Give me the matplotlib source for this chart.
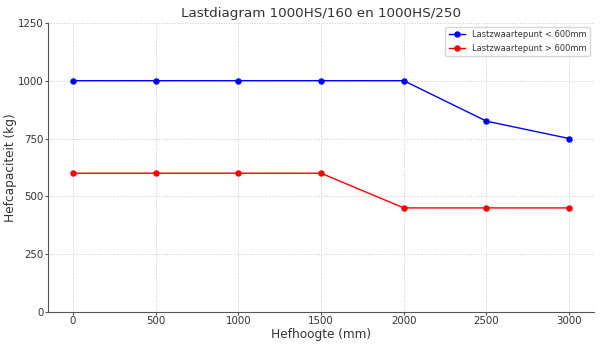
import matplotlib
matplotlib.use('Agg')
import matplotlib.pyplot as plt

hoogte = [0, 500, 1000, 1500, 2000, 2500, 3000]
cap_klein = [1000, 1000, 1000, 1000, 1000, 825, 750]
cap_groot = [600, 600, 600, 600, 450, 450, 450]
yticks = [0, 250, 500, 750, 1000, 1250]

txt = '#333333'
fig = plt.figure(figsize=(6, 3.57), dpi=100)
ax = fig.add_axes([0.08, 0.126, 0.91, 0.81])
ax.plot(hoogte, cap_klein, '-o', color='blue', markersize=3.6, linewidth=1.0,
        label='Lastzwaartepunt < 600mm')
ax.plot(hoogte, cap_groot, '-o', color='red', markersize=3.6, linewidth=1.0,
        label='Lastzwaartepunt > 600mm')
ax.set_ylim(0, 1250)
ax.set_yticks(yticks)
ax.set_xticks(hoogte)
ax.grid(True, linestyle=':', color='#cccccc', linewidth=0.7)
for s in ['top', 'right']:
    ax.spines[s].set_visible(False)
for s in ['left', 'bottom']:
    ax.spines[s].set_color('#555555')
ax.tick_params(colors='#555555', labelcolor=txt, labelsize=7.4, length=2, pad=1.2)
ax.set_title('Lastdiagram 1000HS/160 en 1000HS/250', fontsize=9.7, color=txt, pad=4)
ax.set_xlabel('Hefhoogte (mm)', fontsize=8.7, color=txt, labelpad=1)
ax.set_ylabel('Hefcapaciteit (kg)', fontsize=8.7, color=txt, labelpad=0.5)
leg = ax.legend(loc='upper right', fontsize=6)
for t in leg.get_texts():
    t.set_color(txt)
fig.savefig('out.png')
